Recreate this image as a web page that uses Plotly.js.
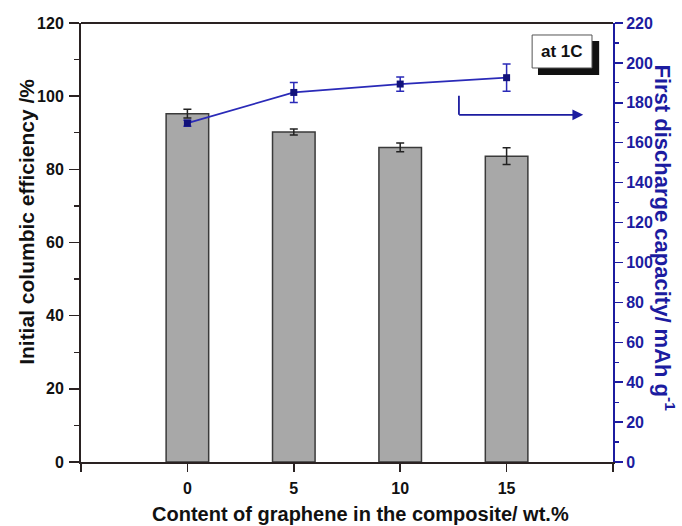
<!DOCTYPE html>
<html>
<head>
<meta charset="utf-8">
<script src="https://cdn.plot.ly/plotly-3.0.1.min.js"></script>
<style>html,body{margin:0;padding:0;background:#fff;}#chart{width:682px;height:526px;}</style>
</head>
<body>
<div id="chart"></div>
<script>
// Data
const content = [0, 5, 10, 15];                 // graphene content, wt.%
const efficiency = [95.2, 90.2, 86.0, 83.6];     // initial columbic efficiency, %
const efficiencyErr = [1.2, 0.8, 1.2, 2.3];
const capacity = [169.8, 185.2, 189.4, 192.6];   // first discharge capacity, mAh/g
const capacityErr = [1.5, 5.0, 3.6, 6.8];
const xTickVals = [-5, 0, 5, 10, 15, 20];
const xTickText = ['', '0', '5', '10', '15', ''];

const fam = 'Liberation Sans, Arial, sans-serif';
const dark = '#2a2222';
const blue = '#1c1ca0';

const traces = [
  {
    type: 'bar', x: content, y: efficiency, width: 2,
    marker: {color: '#a8a8a8', line: {color: '#3a3a3a', width: 1.5}},
    error_y: {type: 'data', array: efficiencyErr, visible: true, color: '#222', thickness: 1.5, width: 4},
    xaxis: 'x', yaxis: 'y', showlegend: false
  },
  {
    type: 'scatter', mode: 'lines+markers', x: content, y: capacity,
    line: {color: '#2a2ab8', width: 1.8},
    marker: {symbol: 'square', size: 7, color: '#12127a'},
    error_y: {type: 'data', array: capacityErr, visible: true, color: '#2a2ab8', thickness: 1.5, width: 4},
    xaxis: 'x', yaxis: 'y2', showlegend: false
  }
];

const layout = {
  width: 682, height: 526,
  margin: {l: 81, r: 69, t: 23, b: 64},
  paper_bgcolor: '#fff', plot_bgcolor: '#fff',
  font: {family: fam, color: '#111'},
  xaxis: {
    range: [-5, 20], tickvals: xTickVals, ticktext: xTickText,
    showline: true, linecolor: dark, linewidth: 2,
    ticks: 'outside', ticklen: 8, tickwidth: 1.5, tickcolor: dark,
    ticklabelstandoff: 3,
    showgrid: false, zeroline: false,
    tickfont: {family: fam, size: 16, color: '#111', weight: 'bold'}
  },
  yaxis: {
    range: [0, 120], dtick: 20,
    showline: true, linecolor: dark, linewidth: 2,
    ticks: 'outside', ticklen: 10, tickwidth: 1.5, tickcolor: dark,
    ticklabelstandoff: 2,
    minor: {dtick: 10, ticks: 'outside', ticklen: 5, tickwidth: 1.2, tickcolor: dark, showgrid: false},
    showgrid: false, zeroline: false,
    tickfont: {family: fam, size: 16, color: '#111', weight: 'bold'}
  },
  yaxis2: {
    overlaying: 'y', side: 'right', range: [0, 220], dtick: 20,
    showline: true, linecolor: blue, linewidth: 2,
    ticks: 'outside', ticklen: 8, tickwidth: 1.5, tickcolor: blue,
    minor: {dtick: 10, ticks: 'outside', ticklen: 4, tickwidth: 1.2, tickcolor: blue, showgrid: false},
    showgrid: false, zeroline: false,
    tickfont: {family: fam, size: 16, color: blue, weight: 'bold'}
  },
  shapes: [
    // top frame line
    {type: 'line', xref: 'paper', yref: 'paper', x0: 0, x1: 1, y0: 1, y1: 1, line: {color: dark, width: 2}},
    // "at 1C" box shadow and box
    {type: 'rect', xref: 'paper', yref: 'paper', x0: 0.859, x1: 0.974, y0: 0.8815, y1: 0.959, fillcolor: '#111', line: {width: 0}},
    {type: 'rect', xref: 'paper', yref: 'paper', x0: 0.848, x1: 0.9605, y0: 0.8975, y1: 0.9727, fillcolor: '#fff', line: {color: '#555', width: 1}},
    // arrow vertical segment
    {type: 'line', xref: 'x', yref: 'y2', x0: 12.76, x1: 12.76, y0: 183.5, y1: 174, line: {color: blue, width: 1.8}}
  ],
  annotations: [
    {xref: 'paper', yref: 'paper', x: 0.904, y: 0.935, xanchor: 'center', yanchor: 'middle',
     text: '<b>at 1C</b>', showarrow: false,
     font: {family: fam, size: 17, color: '#111'}},
    {xref: 'x', yref: 'y2', axref: 'x', ayref: 'y2', x: 18.6, y: 174, ax: 12.7, ay: 174, text: '',
     showarrow: true, arrowhead: 2, arrowsize: 1.2, arrowwidth: 1.8, arrowcolor: blue},
    // axis titles
    {xref: 'paper', yref: 'paper', x: 0.526, y: -0.118, xanchor: 'center', yanchor: 'middle',
     text: '<b>Content of graphene in the composite/ wt.%</b>', showarrow: false,
     font: {family: fam, size: 20, color: '#111'}},
    {xref: 'paper', yref: 'paper', x: -0.1015, y: 0.547, xanchor: 'center', yanchor: 'middle',
     text: '<b>Initial columbic efficiency /%</b>', textangle: -90, showarrow: false,
     font: {family: fam, size: 21, color: '#111'}},
    {xref: 'paper', yref: 'paper', x: 1.097, y: 0.51, xanchor: 'center', yanchor: 'middle',
     text: '<b>First discharge capacity/ mAh g<sup>-1</sup></b>', textangle: 90, showarrow: false,
     font: {family: fam, size: 22, color: blue}}
  ]
};

Plotly.newPlot('chart', traces, layout, {displayModeBar: false, staticPlot: true});
</script>
</body>
</html>
